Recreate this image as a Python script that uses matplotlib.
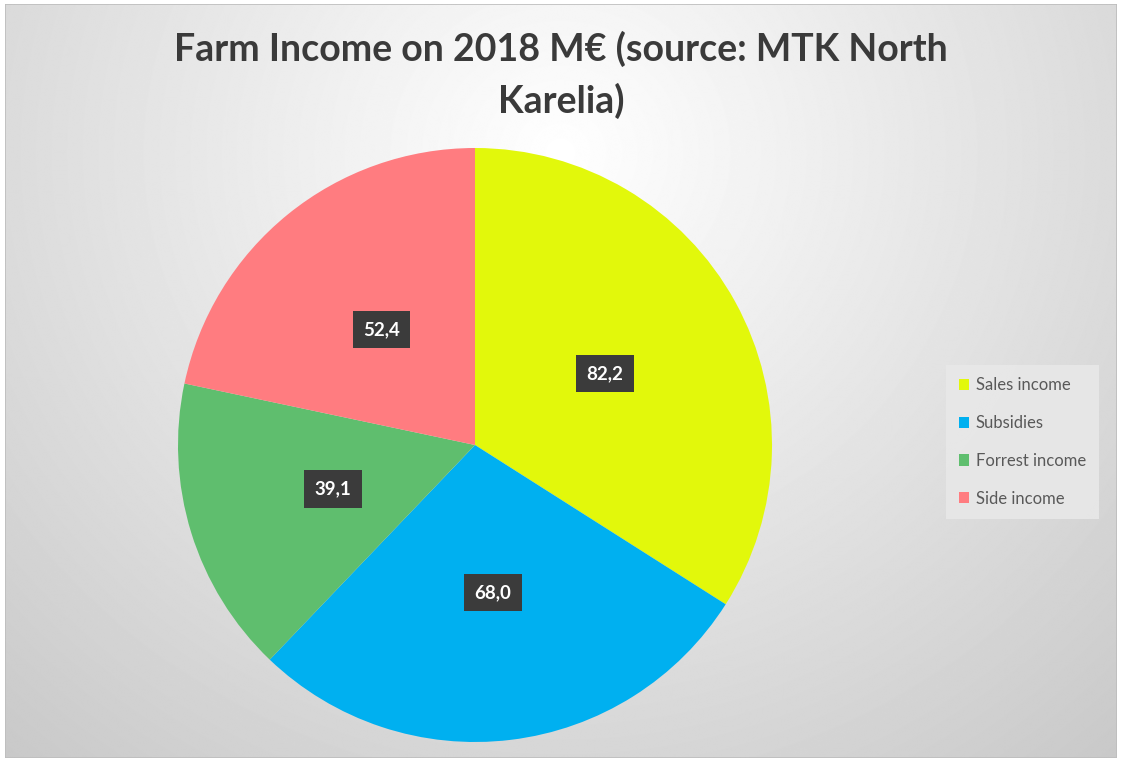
#!/usr/bin/env python3
"""
Farm income pie chart, 2018, MTK North Karelia.
"""

import matplotlib
matplotlib.use("Agg")
import matplotlib.pyplot as plt
import numpy as np
from matplotlib.patches import Patch, Rectangle

CATEGORIES = ["Sales income", "Subsidies", "Forrest income", "Side income"]
VALUES = [82.2, 68.0, 39.1, 52.4]
LABELS = ["82,2", "68,0", "39,1", "52,4"]
COLORS = ["#E2F80B", "#00B0F0", "#5FBE6E", "#FF7C80"]
TITLE = "Farm Income on 2018 M\u20ac (source: MTK North\nKarelia)"

W, H = 1122, 762
plt.rcParams["font.family"] = ["Lato", "DejaVu Sans"]

fig = plt.figure(figsize=(W / 100, H / 100), dpi=100)
fig.patch.set_facecolor("white")

# background: radial grey gradient, lightest near the title
bg = fig.add_axes([5 / W, 4 / H, (W - 10) / W, (H - 8) / H])
yy, xx = np.mgrid[0:H, 0:W]
dist = np.hypot(xx - 560, (yy - 150) * 1.05)
shade = np.clip(255 - 0.064 * dist, 195, 255) / 255
bg.imshow(shade, cmap="gray", vmin=0, vmax=1, aspect="auto", extent=(0, 1, 0, 1))
bg.set_xlim(0, 1)
bg.set_ylim(0, 1)
bg.axis("off")
bg.add_patch(Rectangle((0, 0), 1, 1, transform=bg.transAxes, fill=False,
                       edgecolor="#bdbdbd", linewidth=1.2))

fig.text(561 / W, 1 - 75 / H, TITLE, ha="center", va="center", fontsize=27,
         fontweight="bold", color="#3a3a3a", linespacing=1.5)

# pie: centre (475, 445) px, radius 297 px
r = 297
cx, cy = 475, 445
ax = fig.add_axes([(cx - r) / W, (H - cy - r) / H, 2 * r / W, 2 * r / H])
wedges, texts = ax.pie(VALUES, colors=COLORS, startangle=90, counterclock=False,
                       labels=LABELS, labeldistance=0.5,
                       wedgeprops=dict(linewidth=0))
for t in texts:
    t.set_ha("center")
    t.set_va("center")
    t.set_color("white")
    t.set_fontweight("bold")
    t.set_fontsize(13.5)
    t.set_bbox(dict(boxstyle="square,pad=0.55", fc="#3b3b3b", ec="none"))
ax.set_xlim(-1, 1)
ax.set_ylim(-1, 1)
ax.set_aspect("equal", adjustable="box")
ax.axis("off")

handles = [Patch(facecolor=c, edgecolor="none") for c in COLORS]
leg = fig.legend(handles, CATEGORIES, loc="upper left",
                 bbox_to_anchor=(946 / W, 1 - 365 / H), borderaxespad=0,
                 frameon=True, fontsize=12, labelcolor="#595959",
                 handlelength=0.65, handleheight=0.65, handletextpad=0.4,
                 labelspacing=1.3, borderpad=0.75, fancybox=False)
leg.get_frame().set_facecolor("#e8e8e8")
leg.get_frame().set_edgecolor("none")
leg.get_frame().set_alpha(0.9)

fig.savefig("out.png", dpi=100)
